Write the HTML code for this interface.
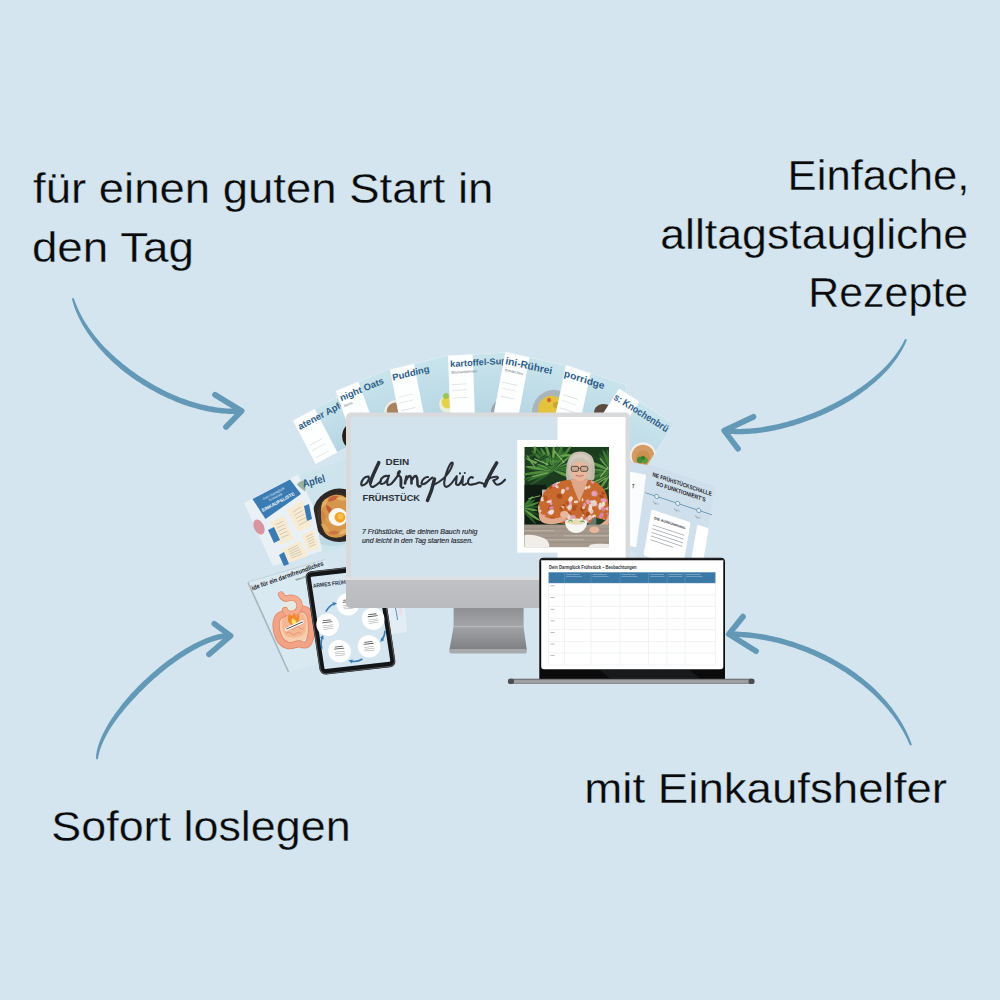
<!DOCTYPE html>
<html><head><meta charset="utf-8"><style>
html,body{margin:0;padding:0;background:#d4e5ef;}
svg{display:block}
text{font-family:"Liberation Sans", sans-serif;}
</style></head><body>
<svg width="1000" height="1000" viewBox="0 0 1000 1000">
<rect width="1000" height="1000" fill="#d4e5ef"/>

<g font-family="Liberation Sans, sans-serif" font-size="43" fill="#0a0a0a" stroke="#d4e5ef" stroke-width="0.3">
<text x="33" y="203" textLength="460.3" lengthAdjust="spacingAndGlyphs">für einen guten Start in</text>
<text x="31.9" y="262" textLength="162.1" lengthAdjust="spacingAndGlyphs">den Tag</text>
<text x="787.6" y="190" textLength="181.9" lengthAdjust="spacingAndGlyphs">Einfache,</text>
<text x="660.2" y="248.6" textLength="307.9" lengthAdjust="spacingAndGlyphs">alltagstaugliche</text>
<text x="808.3" y="307.3" textLength="159.7" lengthAdjust="spacingAndGlyphs">Rezepte</text>
<text x="51.3" y="841" textLength="299.3" lengthAdjust="spacingAndGlyphs">Sofort loslegen</text>
<text x="584.3" y="803" textLength="362.7" lengthAdjust="spacingAndGlyphs">mit Einkaufshelfer</text>
</g>
<path d="M72.1,299.3 L72.7,301.7 L73.4,304.1 L74.1,306.5 L75.0,308.8 L75.9,311.2 L76.9,313.6 L78.0,315.9 L79.1,318.3 L80.3,320.6 L81.5,322.9 L82.8,325.2 L84.1,327.5 L85.6,329.8 L87.0,332.0 L88.5,334.3 L90.1,336.5 L91.7,338.7 L93.4,340.9 L95.1,343.1 L96.9,345.2 L98.7,347.4 L100.5,349.5 L102.4,351.6 L104.4,353.7 L106.3,355.7 L108.4,357.7 L110.4,359.8 L112.5,361.7 L114.6,363.7 L116.8,365.6 L119.0,367.5 L121.2,369.4 L123.5,371.2 L125.8,373.0 L128.2,374.8 L130.5,376.5 L132.9,378.2 L135.4,379.9 L137.8,381.5 L140.3,383.1 L142.7,384.7 L145.3,386.2 L147.8,387.7 L150.3,389.2 L152.9,390.6 L155.5,392.0 L158.0,393.4 L160.6,394.7 L163.3,396.0 L165.9,397.3 L168.5,398.5 L171.2,399.6 L173.8,400.8 L176.5,401.9 L179.1,402.9 L181.8,403.9 L184.5,404.9 L187.1,405.8 L189.8,406.7 L192.5,407.5 L195.2,408.3 L197.8,409.0 L200.5,409.7 L203.2,410.3 L205.8,410.9 L208.5,411.5 L211.1,412.0 L213.7,412.4 L216.4,412.8 L219.0,413.1 L221.6,413.4 L224.2,413.6 L226.7,413.8 L229.3,413.9 L231.8,414.0 L234.4,414.0 L236.9,414.0 L239.4,413.9 L241.8,413.7 L241.4,408.3 L239.1,408.5 L236.7,408.6 L234.3,408.6 L231.9,408.6 L229.5,408.5 L227.1,408.4 L224.6,408.3 L222.1,408.0 L219.6,407.8 L217.1,407.4 L214.6,407.1 L212.1,406.6 L209.5,406.2 L206.9,405.6 L204.4,405.1 L201.8,404.5 L199.2,403.8 L196.6,403.1 L194.0,402.3 L191.5,401.5 L188.9,400.7 L186.3,399.8 L183.7,398.8 L181.1,397.9 L178.5,396.9 L175.9,395.8 L173.3,394.7 L170.7,393.6 L168.2,392.4 L165.6,391.2 L163.1,389.9 L160.5,388.6 L158.0,387.3 L155.5,385.9 L153.0,384.5 L150.5,383.1 L148.0,381.6 L145.6,380.1 L143.2,378.6 L140.8,377.0 L138.4,375.4 L136.0,373.8 L133.7,372.1 L131.4,370.4 L129.1,368.7 L126.9,367.0 L124.6,365.2 L122.4,363.4 L120.2,361.6 L118.1,359.8 L115.9,357.9 L113.8,356.1 L111.8,354.2 L109.8,352.3 L107.8,350.3 L105.8,348.4 L103.9,346.4 L102.1,344.4 L100.2,342.4 L98.5,340.3 L96.7,338.2 L95.0,336.2 L93.4,334.1 L91.8,332.0 L90.2,329.8 L88.7,327.7 L87.3,325.5 L85.9,323.4 L84.5,321.2 L83.2,319.0 L82.0,316.8 L80.8,314.5 L79.6,312.3 L78.5,310.1 L77.5,307.8 L76.6,305.6 L75.6,303.3 L74.8,301.0 L73.9,298.7Z" fill="#6399b6"/><path d="M215,394.8 L241.6,411.0 L226,427" fill="none" stroke="#6399b6" stroke-width="5.7" stroke-linecap="round" stroke-linejoin="round"/><circle cx="73.0" cy="299.0" r="0.95" fill="#6399b6"/><path d="M904.8,339.6 L903.7,341.7 L902.6,343.8 L901.4,345.9 L900.1,347.9 L898.8,350.0 L897.4,352.0 L896.0,354.0 L894.5,356.0 L893.0,358.0 L891.4,359.9 L889.7,361.9 L888.0,363.8 L886.3,365.7 L884.5,367.5 L882.6,369.4 L880.7,371.2 L878.8,373.0 L876.8,374.8 L874.8,376.6 L872.7,378.3 L870.6,380.0 L868.4,381.7 L866.2,383.4 L864.0,385.1 L861.7,386.7 L859.4,388.3 L857.1,389.8 L854.7,391.4 L852.3,392.9 L849.9,394.4 L847.4,395.9 L845.0,397.3 L842.5,398.8 L840.0,400.2 L837.4,401.6 L834.9,402.9 L832.3,404.2 L829.7,405.5 L827.1,406.8 L824.4,408.0 L821.8,409.2 L819.1,410.4 L816.5,411.5 L813.8,412.7 L811.1,413.7 L808.4,414.8 L805.7,415.8 L803.0,416.8 L800.3,417.7 L797.6,418.6 L794.9,419.5 L792.2,420.3 L789.4,421.1 L786.7,421.9 L784.0,422.6 L781.3,423.3 L778.7,423.9 L776.0,424.5 L773.3,425.1 L770.7,425.6 L768.0,426.1 L765.4,426.6 L762.8,427.0 L760.2,427.4 L757.6,427.7 L755.1,428.0 L752.6,428.2 L750.1,428.5 L747.6,428.6 L745.1,428.7 L742.7,428.8 L740.3,428.9 L738.0,428.9 L735.6,428.8 L733.4,428.7 L731.1,428.6 L728.9,428.4 L726.7,428.2 L724.6,427.9 L723.8,433.3 L726.1,433.6 L728.4,433.8 L730.7,434.0 L733.1,434.1 L735.5,434.2 L737.9,434.3 L740.4,434.3 L742.9,434.2 L745.4,434.1 L747.9,434.0 L750.5,433.8 L753.1,433.6 L755.7,433.4 L758.3,433.1 L760.9,432.7 L763.6,432.3 L766.3,431.9 L769.0,431.4 L771.7,430.9 L774.4,430.4 L777.1,429.8 L779.9,429.2 L782.6,428.5 L785.4,427.8 L788.2,427.1 L790.9,426.3 L793.7,425.5 L796.5,424.6 L799.3,423.7 L802.0,422.8 L804.8,421.8 L807.6,420.8 L810.3,419.8 L813.1,418.8 L815.8,417.7 L818.6,416.5 L821.3,415.4 L824.0,414.2 L826.7,412.9 L829.4,411.7 L832.1,410.4 L834.7,409.1 L837.4,407.7 L840.0,406.3 L842.6,404.9 L845.1,403.4 L847.7,402.0 L850.2,400.4 L852.7,398.9 L855.1,397.3 L857.5,395.7 L859.9,394.0 L862.3,392.3 L864.6,390.6 L866.9,388.9 L869.1,387.1 L871.3,385.3 L873.5,383.5 L875.6,381.7 L877.6,379.8 L879.7,378.0 L881.7,376.1 L883.6,374.1 L885.5,372.2 L887.3,370.2 L889.1,368.2 L890.8,366.2 L892.5,364.1 L894.1,362.1 L895.6,360.0 L897.1,357.9 L898.6,355.8 L899.9,353.6 L901.2,351.5 L902.5,349.3 L903.6,347.1 L904.7,344.9 L905.7,342.7 L906.6,340.4Z" fill="#6399b6"/><path d="M753.5,416.8 L724.2,430.6 L738,448.8" fill="none" stroke="#6399b6" stroke-width="5.7" stroke-linecap="round" stroke-linejoin="round"/><circle cx="905.7" cy="340.0" r="0.95" fill="#6399b6"/><path d="M97.9,758.5 L98.3,756.8 L98.6,755.2 L99.0,753.5 L99.5,751.7 L100.0,750.0 L100.6,748.2 L101.2,746.4 L102.0,744.6 L102.8,742.7 L103.6,740.8 L104.5,738.9 L105.5,737.0 L106.6,735.1 L107.6,733.1 L108.8,731.1 L110.0,729.1 L111.3,727.1 L112.6,725.1 L114.0,723.1 L115.4,721.1 L116.9,719.1 L118.4,717.0 L119.9,715.0 L121.5,712.9 L123.2,710.9 L124.9,708.8 L126.6,706.8 L128.4,704.8 L130.2,702.7 L132.0,700.7 L133.9,698.7 L135.8,696.7 L137.7,694.7 L139.6,692.6 L141.6,690.7 L143.6,688.7 L145.6,686.7 L147.6,684.8 L149.7,682.8 L151.7,680.9 L153.8,679.0 L155.9,677.2 L158.1,675.4 L160.2,673.5 L162.4,671.8 L164.5,670.0 L166.7,668.3 L168.9,666.6 L171.0,665.0 L173.2,663.4 L175.4,661.8 L177.6,660.2 L179.8,658.7 L182.0,657.3 L184.2,655.9 L186.3,654.5 L188.5,653.2 L190.6,651.9 L192.8,650.7 L194.9,649.5 L197.0,648.4 L199.1,647.3 L201.2,646.3 L203.3,645.3 L205.3,644.4 L207.3,643.6 L209.3,642.8 L211.3,642.1 L213.2,641.4 L215.1,640.8 L217.0,640.3 L218.8,639.8 L220.6,639.4 L222.4,639.1 L224.1,638.8 L225.8,638.6 L227.4,638.5 L229.0,638.5 L230.5,638.5 L230.7,633.1 L228.9,633.1 L227.1,633.1 L225.3,633.3 L223.4,633.5 L221.5,633.8 L219.5,634.1 L217.6,634.6 L215.6,635.1 L213.6,635.6 L211.5,636.3 L209.5,637.0 L207.4,637.8 L205.3,638.6 L203.2,639.5 L201.0,640.4 L198.9,641.4 L196.7,642.5 L194.5,643.6 L192.3,644.8 L190.1,646.0 L187.9,647.2 L185.7,648.6 L183.5,649.9 L181.2,651.3 L179.0,652.8 L176.8,654.3 L174.5,655.8 L172.3,657.4 L170.0,659.0 L167.8,660.6 L165.6,662.3 L163.4,664.0 L161.1,665.8 L158.9,667.6 L156.7,669.4 L154.6,671.2 L152.4,673.1 L150.2,675.0 L148.1,676.9 L146.0,678.9 L143.9,680.8 L141.8,682.8 L139.8,684.8 L137.7,686.8 L135.7,688.9 L133.8,690.9 L131.8,693.0 L129.9,695.1 L128.1,697.2 L126.3,699.3 L124.5,701.5 L122.7,703.6 L121.0,705.7 L119.4,707.9 L117.8,710.0 L116.2,712.2 L114.6,714.3 L113.2,716.4 L111.7,718.6 L110.3,720.7 L109.0,722.8 L107.7,725.0 L106.5,727.1 L105.4,729.2 L104.2,731.2 L103.2,733.3 L102.2,735.4 L101.3,737.4 L100.4,739.4 L99.7,741.4 L98.9,743.4 L98.3,745.4 L97.7,747.3 L97.2,749.2 L96.8,751.1 L96.5,753.0 L96.2,754.8 L96.1,756.6 L96.1,758.3Z" fill="#6399b6"/><path d="M214.3,623.8 L230.6,635.8 L209,654.3" fill="none" stroke="#6399b6" stroke-width="5.7" stroke-linecap="round" stroke-linejoin="round"/><circle cx="97.0" cy="758.4" r="0.95" fill="#6399b6"/><path d="M911.6,744.2 L910.7,741.5 L909.7,738.9 L908.6,736.3 L907.4,733.7 L906.2,731.2 L905.0,728.7 L903.6,726.2 L902.3,723.8 L900.8,721.3 L899.3,718.9 L897.8,716.5 L896.2,714.2 L894.6,711.9 L892.9,709.6 L891.2,707.3 L889.4,705.1 L887.6,702.8 L885.7,700.6 L883.8,698.5 L881.9,696.4 L879.9,694.3 L877.9,692.2 L875.8,690.1 L873.7,688.1 L871.6,686.1 L869.4,684.2 L867.2,682.3 L864.9,680.4 L862.7,678.5 L860.3,676.7 L858.0,674.9 L855.6,673.1 L853.2,671.4 L850.8,669.7 L848.3,668.1 L845.8,666.5 L843.3,664.9 L840.8,663.4 L838.2,661.9 L835.6,660.4 L833.0,659.0 L830.4,657.6 L827.8,656.2 L825.1,654.8 L822.4,653.5 L819.8,652.3 L817.1,651.0 L814.3,649.8 L811.6,648.7 L808.9,647.6 L806.1,646.5 L803.4,645.4 L800.6,644.4 L797.8,643.4 L795.1,642.5 L792.3,641.6 L789.5,640.7 L786.7,639.9 L783.9,639.1 L781.1,638.3 L778.3,637.6 L775.5,636.9 L772.7,636.3 L769.9,635.7 L767.1,635.1 L764.3,634.6 L761.5,634.1 L758.7,633.7 L756.0,633.3 L753.2,632.9 L750.4,632.6 L747.7,632.3 L744.9,632.1 L742.2,631.9 L739.5,631.7 L736.8,631.6 L734.1,631.5 L731.4,631.5 L728.8,631.5 L728.8,636.9 L731.4,636.9 L734.0,636.9 L736.6,637.0 L739.2,637.1 L741.9,637.2 L744.5,637.4 L747.2,637.7 L749.9,637.9 L752.5,638.3 L755.2,638.6 L757.9,639.0 L760.6,639.4 L763.4,639.9 L766.1,640.4 L768.8,641.0 L771.5,641.5 L774.3,642.2 L777.0,642.8 L779.7,643.5 L782.4,644.3 L785.2,645.0 L787.9,645.9 L790.6,646.7 L793.4,647.6 L796.1,648.5 L798.8,649.5 L801.5,650.5 L804.2,651.5 L806.9,652.6 L809.5,653.7 L812.2,654.8 L814.8,656.0 L817.5,657.2 L820.1,658.4 L822.7,659.7 L825.3,661.0 L827.9,662.3 L830.4,663.7 L833.0,665.1 L835.5,666.5 L838.0,668.0 L840.5,669.5 L842.9,671.1 L845.4,672.6 L847.8,674.2 L850.1,675.8 L852.5,677.5 L854.8,679.2 L857.2,680.9 L859.4,682.6 L861.7,684.3 L863.9,686.1 L866.1,687.9 L868.3,689.8 L870.5,691.7 L872.6,693.6 L874.6,695.5 L876.7,697.4 L878.7,699.4 L880.6,701.4 L882.5,703.5 L884.4,705.6 L886.3,707.7 L888.1,709.8 L889.8,711.9 L891.6,714.1 L893.2,716.3 L894.9,718.6 L896.5,720.8 L898.0,723.1 L899.5,725.4 L900.9,727.8 L902.3,730.1 L903.7,732.5 L905.0,735.0 L906.3,737.4 L907.5,739.9 L908.6,742.4 L909.8,744.8Z" fill="#6399b6"/><path d="M743,616.6 L728.8,634.2 L756,651.2" fill="none" stroke="#6399b6" stroke-width="5.7" stroke-linecap="round" stroke-linejoin="round"/><circle cx="910.7" cy="744.5" r="0.95" fill="#6399b6"/>
<defs><linearGradient id="ph" x1="0" y1="0" x2="0" y2="1"><stop offset="0" stop-color="#c9e4ec"/><stop offset="1" stop-color="#b6d6e3"/></linearGradient><linearGradient id="chin" x1="0" y1="0" x2="0" y2="1"><stop offset="0" stop-color="#c0c1c4"/><stop offset="1" stop-color="#babbbe"/></linearGradient><linearGradient id="neck" x1="0" y1="0" x2="0" y2="1"><stop offset="0" stop-color="#8f9094"/><stop offset="1" stop-color="#a4a5a9"/></linearGradient><linearGradient id="foot" x1="0" y1="0" x2="0" y2="1"><stop offset="0" stop-color="#a3a4a8"/><stop offset="1" stop-color="#7e7f83"/></linearGradient><linearGradient id="lbase" x1="0" y1="0" x2="0" y2="1"><stop offset="0" stop-color="#5d5e61"/><stop offset="0.4" stop-color="#a9aaad"/><stop offset="1" stop-color="#8a8b8e"/></linearGradient><radialGradient id="soup" cx="0.5" cy="0.5" r="0.5"><stop offset="0" stop-color="#d9a066"/><stop offset="1" stop-color="#c98a4e"/></radialGradient></defs><g transform="matrix(0.8823 -0.4694 0.4560 0.8760 292.80 420.40)"><svg x="0" y="0" width="62" height="50" overflow="hidden"><rect x="0" y="0" width="62" height="50" fill="url(#ph)"/><rect x="0" y="0" width="24.8" height="50" fill="#fdfefe"/><circle cx="49.8" cy="44.5" r="15" fill="#2a1d18"/><circle cx="49.8" cy="44.5" r="11" fill="#4a3022"/><rect x="3" y="30" width="14.8" height="0.6" fill="#aab2b8" opacity="0.45"/><rect x="3" y="36" width="14.8" height="0.6" fill="#aab2b8" opacity="0.45"/><rect x="3" y="44" width="14.8" height="0.6" fill="#aab2b8" opacity="0.45"/><text x="2" y="12" font-family="Liberation Sans, sans-serif" font-weight="bold" font-size="9.5" fill="#2d5d86">atener Apfel</text><rect x="0" y="0" width="62" height="50" fill="none" stroke="#eef5f8" stroke-width="0.8"/></svg></g><g transform="matrix(0.9226 -0.3839 0.3306 0.9097 335.40 391.00)"><svg x="0" y="0" width="62" height="62" overflow="hidden"><rect x="0" y="0" width="62" height="62" fill="url(#ph)"/><rect x="0" y="0" width="24.8" height="62" fill="#fdfefe"/><circle cx="49.3" cy="42.8" r="11" fill="#f1ede6"/><circle cx="49.3" cy="42.8" r="8.5" fill="#a7835f"/><rect x="3" y="30" width="14.8" height="0.6" fill="#aab2b8" opacity="0.45"/><rect x="3" y="36" width="14.8" height="0.6" fill="#aab2b8" opacity="0.45"/><rect x="3" y="44" width="14.8" height="0.6" fill="#aab2b8" opacity="0.45"/><text x="2" y="12" font-family="Liberation Sans, sans-serif" font-weight="bold" font-size="9.5" fill="#2d5d86">night Oats</text><text x="3" y="19" font-family="Liberation Sans, sans-serif" font-size="4" fill="#6d7880">Nuss</text><rect x="0" y="0" width="62" height="62" fill="none" stroke="#eef5f8" stroke-width="0.8"/></svg></g><g transform="matrix(0.9710 -0.2371 0.1871 0.9500 389.80 369.50)"><svg x="0" y="0" width="62" height="62" overflow="hidden"><rect x="0" y="0" width="62" height="62" fill="url(#ph)"/><rect x="0" y="0" width="24.8" height="62" fill="#fdfefe"/><circle cx="50.5" cy="48.9" r="9" fill="#e9efd8"/><circle cx="50.9" cy="46.9" r="6.5" fill="#e6d24a"/><circle cx="50.1" cy="40.4" r="3" fill="#9cc45a"/><rect x="3" y="30" width="14.8" height="0.6" fill="#aab2b8" opacity="0.45"/><rect x="3" y="36" width="14.8" height="0.6" fill="#aab2b8" opacity="0.45"/><rect x="3" y="44" width="14.8" height="0.6" fill="#aab2b8" opacity="0.45"/><text x="1" y="12" font-family="Liberation Sans, sans-serif" font-weight="bold" font-size="9.5" fill="#2d5d86">Pudding</text><rect x="0" y="0" width="62" height="62" fill="none" stroke="#eef5f8" stroke-width="0.8"/></svg></g><g transform="matrix(0.9984 -0.0565 0.0355 0.9677 447.90 355.50)"><svg x="0" y="0" width="62" height="62" overflow="hidden"><rect x="0" y="0" width="62" height="62" fill="url(#ph)"/><rect x="0" y="0" width="24.8" height="62" fill="#fdfefe"/><circle cx="56.0" cy="61.7" r="15" fill="#9aa4aa"/><circle cx="56.0" cy="61.7" r="11" fill="#d9a36a"/><rect x="3" y="30" width="14.8" height="0.6" fill="#aab2b8" opacity="0.45"/><rect x="3" y="36" width="14.8" height="0.6" fill="#aab2b8" opacity="0.45"/><rect x="3" y="44" width="14.8" height="0.6" fill="#aab2b8" opacity="0.45"/><text x="2" y="12" font-family="Liberation Sans, sans-serif" font-weight="bold" font-size="9.2" fill="#2d5d86">kartoffel-Sup</text><text x="3" y="19" font-family="Liberation Sans, sans-serif" font-size="4" fill="#6d7880">Blumenkernen</text><rect x="0" y="0" width="62" height="62" fill="none" stroke="#eef5f8" stroke-width="0.8"/></svg></g><g transform="matrix(0.9758 0.2210 -0.1839 0.9823 505.30 351.70)"><svg x="0" y="0" width="62" height="62" overflow="hidden"><rect x="0" y="0" width="62" height="62" fill="url(#ph)"/><rect x="0" y="0" width="24.8" height="62" fill="#fdfefe"/><circle cx="60.1" cy="48.9" r="23" fill="#aab4bb"/><circle cx="56.6" cy="46.6" r="14" fill="#e3c33c"/><circle cx="51.9" cy="37.5" r="2.2" fill="#d9652c"/><circle cx="59.7" cy="40.8" r="3" fill="#c9a830"/><rect x="3" y="30" width="14.8" height="0.6" fill="#aab2b8" opacity="0.45"/><rect x="3" y="36" width="14.8" height="0.6" fill="#aab2b8" opacity="0.45"/><rect x="3" y="44" width="14.8" height="0.6" fill="#aab2b8" opacity="0.45"/><text x="2" y="12" font-family="Liberation Sans, sans-serif" font-weight="bold" font-size="10.2" fill="#2d5d86">ini-Rührei</text><text x="3" y="19" font-family="Liberation Sans, sans-serif" font-size="4" fill="#6d7880">tomätchen</text><rect x="0" y="0" width="62" height="62" fill="none" stroke="#eef5f8" stroke-width="0.8"/></svg></g><g transform="matrix(0.9903 0.3210 -0.2000 0.9468 566.00 365.00)"><svg x="0" y="0" width="62" height="62" overflow="hidden"><rect x="0" y="0" width="62" height="62" fill="url(#ph)"/><rect x="0" y="0" width="24.8" height="62" fill="#fdfefe"/><circle cx="46.8" cy="36.9" r="11" fill="#5a4a40"/><rect x="3" y="30" width="14.8" height="0.6" fill="#aab2b8" opacity="0.45"/><rect x="3" y="36" width="14.8" height="0.6" fill="#aab2b8" opacity="0.45"/><rect x="3" y="44" width="14.8" height="0.6" fill="#aab2b8" opacity="0.45"/><text x="0" y="12" font-family="Liberation Sans, sans-serif" font-weight="bold" font-size="10" fill="#2d5d86">porridge</text><rect x="0" y="0" width="62" height="62" fill="none" stroke="#eef5f8" stroke-width="0.8"/></svg></g><g transform="matrix(0.8427 0.5344 -0.5375 0.8438 619.00 388.50)"><svg x="0" y="0" width="65.5" height="80" overflow="hidden"><rect x="0" y="0" width="65.5" height="80" fill="url(#ph)"/><rect x="0" y="0" width="24.235" height="80" fill="#fdfefe"/><circle cx="56.4" cy="43.7" r="13.2" fill="#f1f0ec"/><circle cx="56.6" cy="44.1" r="11.3" fill="#d49c62"/><circle cx="57.4" cy="45.4" r="7" fill="#cd9053"/><circle cx="56.2" cy="49.1" r="3.2" fill="#4c8a36"/><circle cx="60.7" cy="46.9" r="3" fill="#5a9a40"/><circle cx="57.7" cy="45.8" r="2.2" fill="#3f7a2e"/><rect x="3" y="30" width="14.235" height="0.6" fill="#aab2b8" opacity="0.45"/><rect x="3" y="36" width="14.235" height="0.6" fill="#aab2b8" opacity="0.45"/><rect x="3" y="44" width="14.235" height="0.6" fill="#aab2b8" opacity="0.45"/><text x="0.5" y="12" font-family="Liberation Sans, sans-serif" font-weight="bold" font-size="10" fill="#2d5d86"><tspan textLength="63" lengthAdjust="spacingAndGlyphs">s: Knochenbrü</tspan></text><rect x="0" y="0" width="65.5" height="80" fill="none" stroke="#eef5f8" stroke-width="0.8"/></svg></g><polygon points="288.0,479.0 347.0,459.0 347.0,547.0 300.0,557.0" fill="#cde4ed"/><ellipse cx="333" cy="530" rx="24" ry="16" fill="#b9d4e0" opacity="0.7"/><circle cx="339.3" cy="515.3" r="26.7" fill="#2e2724"/><circle cx="339.3" cy="515.3" r="22" fill="#3a302b"/><path d="M321,512 C320,503 326,497 334,495 C342,494 348,497 350,505 L350,530 C346,537 338,539 331,537 C324,535 321,528 321,512 Z" fill="#d6964c"/><path d="M-6,1 Q-1,-5 6,-1 Q1,3 -6,1 Z" transform="translate(325,503) rotate(-50)" fill="#e2ae5e"/><path d="M-6,1 Q-1,-5 6,-1 Q1,3 -6,1 Z" transform="translate(333,499) rotate(-15)" fill="#c5603c"/><path d="M-6,1 Q-1,-5 6,-1 Q1,3 -6,1 Z" transform="translate(342,499) rotate(15)" fill="#e4b466"/><path d="M-6,1 Q-1,-5 6,-1 Q1,3 -6,1 Z" transform="translate(323,516) rotate(85)" fill="#cf8642"/><path d="M-6,1 Q-1,-5 6,-1 Q1,3 -6,1 Z" transform="translate(325,528) rotate(55)" fill="#e0a858"/><path d="M-6,1 Q-1,-5 6,-1 Q1,3 -6,1 Z" transform="translate(334,533) rotate(5)" fill="#c97442"/><path d="M-6,1 Q-1,-5 6,-1 Q1,3 -6,1 Z" transform="translate(344,532) rotate(-15)" fill="#e6b868"/><path d="M-6,1 Q-1,-5 6,-1 Q1,3 -6,1 Z" transform="translate(329,510) rotate(70)" fill="#bf5a38"/><path d="M-6,1 Q-1,-5 6,-1 Q1,3 -6,1 Z" transform="translate(330,522) rotate(30)" fill="#dca055"/><ellipse cx="338" cy="517" rx="9.5" ry="9" fill="#fbf7ee"/><circle cx="340" cy="517.3" r="5.4" fill="#f0a52a"/><circle cx="340.5" cy="516.5" r="3" fill="#f6bf4e"/><polygon points="244.0,503.0 298.0,474.5 313.0,506.0 322.0,551.0 273.0,566.0" fill="#e9f1f6"/><polygon points="252.5,499.0 290.0,479.5 301.0,494.0 265.5,519.0" fill="#3a7bb4"/><g transform="translate(276.5,499) rotate(-28)" font-family="Liberation Sans, sans-serif" text-anchor="middle" fill="#eaf2f8"><text x="0" y="-5" font-size="3.4">Dein Darmglück</text><text x="0" y="-1" font-size="3.4">Frühstück</text><text x="0" y="5" font-size="4.6" font-weight="bold" fill="#ffffff">EINKAUFSLISTE</text></g><ellipse cx="259" cy="527" rx="5" ry="8" transform="rotate(-25 259 527)" fill="#d5848f" opacity="0.85"/><polygon points="270.0,522.0 284.0,515.0 294.0,539.0 280.0,545.0" fill="#f7ecd3"/><line x1="275.5" y1="524.9" x2="283.2" y2="521.2" stroke="#6e6a60" stroke-width="0.45" opacity="0.6"/><line x1="276.9" y1="528.2" x2="284.6" y2="524.5" stroke="#6e6a60" stroke-width="0.45" opacity="0.6"/><line x1="278.3" y1="531.4" x2="286.0" y2="527.8" stroke="#6e6a60" stroke-width="0.45" opacity="0.6"/><line x1="279.7" y1="534.7" x2="287.4" y2="531.2" stroke="#6e6a60" stroke-width="0.45" opacity="0.6"/><line x1="281.1" y1="537.9" x2="288.8" y2="534.5" stroke="#6e6a60" stroke-width="0.45" opacity="0.6"/><polygon points="287.0,510.0 302.0,500.0 312.0,526.0 298.0,532.0" fill="#f7ecd3"/><line x1="292.9" y1="512.1" x2="301.0" y2="507.0" stroke="#6e6a60" stroke-width="0.45" opacity="0.6"/><line x1="294.4" y1="515.3" x2="302.5" y2="510.6" stroke="#6e6a60" stroke-width="0.45" opacity="0.6"/><line x1="295.9" y1="518.5" x2="303.9" y2="514.1" stroke="#6e6a60" stroke-width="0.45" opacity="0.6"/><line x1="297.4" y1="521.8" x2="305.3" y2="517.6" stroke="#6e6a60" stroke-width="0.45" opacity="0.6"/><line x1="298.9" y1="525.0" x2="306.8" y2="521.2" stroke="#6e6a60" stroke-width="0.45" opacity="0.6"/><polygon points="282.0,550.0 300.0,540.0 308.0,556.0 288.0,563.0" fill="#f7ecd3"/><line x1="287.8" y1="550.2" x2="297.9" y2="545.1" stroke="#6e6a60" stroke-width="0.45" opacity="0.6"/><line x1="288.7" y1="552.2" x2="299.0" y2="547.2" stroke="#6e6a60" stroke-width="0.45" opacity="0.6"/><line x1="289.6" y1="554.1" x2="300.0" y2="549.4" stroke="#6e6a60" stroke-width="0.45" opacity="0.6"/><line x1="290.5" y1="556.0" x2="301.1" y2="551.5" stroke="#6e6a60" stroke-width="0.45" opacity="0.6"/><line x1="291.4" y1="558.0" x2="302.2" y2="553.7" stroke="#6e6a60" stroke-width="0.45" opacity="0.6"/><polygon points="302.0,535.0 314.0,529.0 319.0,548.0 308.0,552.0" fill="#f7ecd3"/><line x1="306.1" y1="537.0" x2="312.6" y2="533.9" stroke="#6e6a60" stroke-width="0.45" opacity="0.6"/><line x1="307.0" y1="539.5" x2="313.4" y2="536.5" stroke="#6e6a60" stroke-width="0.45" opacity="0.6"/><line x1="307.8" y1="541.9" x2="314.1" y2="539.1" stroke="#6e6a60" stroke-width="0.45" opacity="0.6"/><line x1="308.6" y1="544.3" x2="314.8" y2="541.7" stroke="#6e6a60" stroke-width="0.45" opacity="0.6"/><line x1="309.4" y1="546.8" x2="315.6" y2="544.3" stroke="#6e6a60" stroke-width="0.45" opacity="0.6"/><polygon points="268.0,530.0 274.0,527.0 280.0,540.0 274.0,543.0" fill="#3a7bb4"/><polygon points="304.0,506.0 309.0,504.0 312.0,519.0 307.0,521.0" fill="#3a7bb4"/><polygon points="279.0,555.0 284.0,552.0 289.0,564.0 284.0,566.0" fill="#3a7bb4"/><path d="M297,484.5 C299,481 303,480 306,480.5 C306.5,484 305.5,488 305,491.6 C302,489 299,487 297,484.5 Z" fill="#9ab3a0"/><text transform="translate(303.5,487.5) rotate(-14)" font-family="Liberation Sans, sans-serif" font-weight="bold" font-size="11" fill="#2d5d86" textLength="23" lengthAdjust="spacingAndGlyphs">Apfel</text><polygon points="248.0,582.0 325.0,559.5 372.0,650.0 288.0,672.0" fill="#d9e9f2"/><line x1="248" y1="582.5" x2="288.5" y2="672" stroke="#aab4bb" stroke-width="1.6"/><line x1="248" y1="582" x2="325" y2="559.5" stroke="#c0ccd4" stroke-width="0.8"/><text transform="translate(252.4,590.5) rotate(-19.5)" font-family="Liberation Sans, sans-serif" font-weight="bold" font-size="6.6" fill="#1f2328" textLength="76" lengthAdjust="spacingAndGlyphs">ide für ein darmfreundliches</text><text transform="translate(296,581) rotate(-19)" font-family="Liberation Sans, sans-serif" font-size="3.2" fill="#444">Warum</text><ellipse cx="294" cy="622" rx="17" ry="23" fill="#fbeec8" opacity="0.4"/><path d="M280,616 C284,610 296,609 305,611 C310,615 310,628 308,636 C305,643 292,644 284,641 C278,636 277,622 280,616 Z" fill="#f7cfae"/><path d="M283,617 C286,613 296,612 303,614 C307,617 307,626 305,632 C302,638 292,639 286,636 C282,633 281,622 283,617 Z" fill="#f4b894"/><path d="M283,614 C277,615 275,622 276.5,630 C278,638 282,644 288,645.5 C293,646.5 297,643 300,644 C304,645.5 307,646 309,642 C312,636 312,628 311,620 C310,613 307,609 302,609" fill="none" stroke="#e0866c" stroke-width="7.2" stroke-linecap="round"/><path d="M283,614 C277,615 275,622 276.5,630 C278,638 282,644 288,645.5 C293,646.5 297,643 300,644 C304,645.5 307,646 309,642 C312,636 312,628 311,620 C310,613 307,609 302,609" fill="none" stroke="#f2a386" stroke-width="5.6" stroke-linecap="round"/><path d="M285,628 q2.5,-3 5,0 q2.5,3 5,0 q2.5,-3 5,0 q2.5,3 4,0 M286,633.5 q2.5,-3 5,0 q2.5,3 5,0 q2.5,-3 5,0" fill="none" stroke="#e3917a" stroke-width="0.9"/><path d="M281,594.5 C282.5,597.5 284.5,599 287,598.5 C291,597 296,597.5 298.5,601.5 C301,606 299,611 295,613 C291,615 286,613.5 285,610" fill="none" stroke="#e0866c" stroke-width="6.2" stroke-linecap="round"/><path d="M281,594.5 C282.5,597.5 284.5,599 287,598.5 C291,597 296,597.5 298.5,601.5 C301,606 299,611 295,613 C291,615 286,613.5 285,610" fill="none" stroke="#f4ab8e" stroke-width="4.8" stroke-linecap="round"/><path d="M292,625 C287,623 287,617 290,613 C290,616 292,617 293,614.5 C294,611.5 296,614 296,617 C297.5,616 298,614 298,613 C300.5,617 299.5,623 294,625 Z" fill="#f08a2c"/><path d="M293.5,625 C291,623 291,620 293,618 C294,620 296,620 296.5,622 C296.5,624 295,625 293.5,625 Z" fill="#fbe06a"/><g transform="rotate(-24 294.5 625.5)"><rect x="284.5" y="624" width="20" height="3" fill="#ffffff"/><rect x="285.5" y="625" width="18" height="1" fill="#3a3a3a"/></g><polygon points="380,600 404,598 407,632 386,635" fill="#e2edf4"/><path d="M395,606 C396,610 397,615 397.5,620" fill="none" stroke="#4f8fbf" stroke-width="1"/><rect x="399" y="608" width="3" height="7" fill="#f0d6de" opacity="0.7"/><g transform="matrix(0.9974 -0.1145 0.1500 0.9923 304.80 572.00)"><rect width="76" height="104" rx="6" fill="#141517"/><rect x="0.8" y="0.8" width="74.4" height="102.4" rx="5.4" fill="none" stroke="#5d5e62" stroke-width="0.9"/><rect x="5" y="5.5" width="66" height="93" rx="1" fill="#d5e6f0"/><text x="6" y="16.5" font-family="Liberation Sans, sans-serif" font-weight="bold" font-size="5.6" fill="#27323d" textLength="36" lengthAdjust="spacingAndGlyphs">ARMES FRÜHS</text><circle cx="37.7" cy="37.0" r="11.2" fill="#ffffff"/><rect x="33.7" y="32.0" width="8" height="0.8" fill="#4a4a4a"/><rect x="32.7" y="34.0" width="10" height="0.8" fill="#4a4a4a"/><rect x="32.7" y="37.3" width="10" height="0.5" fill="#9a9fa4"/><rect x="32.7" y="39.1" width="10" height="0.5" fill="#9a9fa4"/><rect x="32.7" y="40.9" width="10" height="0.5" fill="#9a9fa4"/><circle cx="14.6" cy="54.9" r="11.2" fill="#ffffff"/><rect x="10.6" y="49.9" width="8" height="0.8" fill="#4a4a4a"/><rect x="9.6" y="51.9" width="10" height="0.8" fill="#4a4a4a"/><rect x="9.6" y="55.2" width="10" height="0.5" fill="#9a9fa4"/><rect x="9.6" y="57.0" width="10" height="0.5" fill="#9a9fa4"/><rect x="9.6" y="58.8" width="10" height="0.5" fill="#9a9fa4"/><circle cx="60.4" cy="54.1" r="11.2" fill="#ffffff"/><rect x="56.4" y="49.1" width="8" height="0.8" fill="#4a4a4a"/><rect x="55.4" y="51.1" width="10" height="0.8" fill="#4a4a4a"/><rect x="55.4" y="54.4" width="10" height="0.5" fill="#9a9fa4"/><rect x="55.4" y="56.2" width="10" height="0.5" fill="#9a9fa4"/><rect x="55.4" y="58.0" width="10" height="0.5" fill="#9a9fa4"/><circle cx="22.5" cy="82.4" r="11.2" fill="#ffffff"/><rect x="18.5" y="77.4" width="8" height="0.8" fill="#4a4a4a"/><rect x="17.5" y="79.4" width="10" height="0.8" fill="#4a4a4a"/><rect x="17.5" y="82.7" width="10" height="0.5" fill="#9a9fa4"/><rect x="17.5" y="84.5" width="10" height="0.5" fill="#9a9fa4"/><rect x="17.5" y="86.3" width="10" height="0.5" fill="#9a9fa4"/><circle cx="52.2" cy="81.0" r="11.2" fill="#ffffff"/><rect x="48.2" y="76.0" width="8" height="0.8" fill="#4a4a4a"/><rect x="47.2" y="78.0" width="10" height="0.8" fill="#4a4a4a"/><rect x="47.2" y="81.3" width="10" height="0.5" fill="#9a9fa4"/><rect x="47.2" y="83.1" width="10" height="0.5" fill="#9a9fa4"/><rect x="47.2" y="84.9" width="10" height="0.5" fill="#9a9fa4"/><path d="M14.8,41.6 Q20.0,35.1 25.1,34.6" fill="none" stroke="#3a7db5" stroke-width="1.6"/><path d="M27.1,34.5 L23.2,36.8 L22.9,32.8 Z" fill="#3a7db5"/><path d="M70.3,67.4 Q69.5,72.5 65.5,76.5" fill="none" stroke="#3a7db5" stroke-width="1.6"/><path d="M64.1,77.9 L65.5,73.7 L68.3,76.5 Z" fill="#3a7db5"/><path d="M43.8,92.7 Q38.0,95.6 31.7,93.3" fill="none" stroke="#3a7db5" stroke-width="1.6"/><path d="M29.8,92.7 L34.2,92.1 L32.9,95.9 Z" fill="#3a7db5"/><path d="M5.5,78.0 Q4.4,72.1 7.8,66.2" fill="none" stroke="#3a7db5" stroke-width="1.6"/><path d="M8.8,64.5 L8.5,68.9 L5.1,66.9 Z" fill="#3a7db5"/></g><g transform="matrix(0.6500 0.1250 -0.1333 0.9667 626.00 461.00)"><rect width="40" height="90" fill="#cfe0ec"/><rect x="3" y="10" width="30" height="75" fill="#fbfcfd"/><text x="14" y="26" font-family="Liberation Sans, sans-serif" font-weight="bold" font-size="6" fill="#333">T</text></g><g transform="matrix(0.9545 0.3182 -0.1600 0.9250 652.00 465.50)"><rect width="66" height="100" fill="#cfe0ec"/><text x="33" y="11" text-anchor="middle" font-family="Liberation Sans, sans-serif" font-weight="bold" font-size="6.3" fill="#1f2429" textLength="62" lengthAdjust="spacingAndGlyphs">NE FRÜHSTÜCKSCHALLE</text><text x="33" y="19" text-anchor="middle" font-family="Liberation Sans, sans-serif" font-weight="bold" font-size="6.3" fill="#1f2429" textLength="52" lengthAdjust="spacingAndGlyphs">SO FUNKTIONIERT'S</text><line x1="-2" y1="30" x2="68" y2="30" stroke="#5f8fb0" stroke-width="0.9"/><circle cx="10" cy="30" r="2.2" fill="#e8f0f6" stroke="#5f8fb0" stroke-width="0.8"/><text x="10" y="38" text-anchor="middle" font-family="Liberation Sans, sans-serif" font-size="2.6" fill="#555">Tag 1</text><circle cx="32" cy="30" r="2.2" fill="#e8f0f6" stroke="#5f8fb0" stroke-width="0.8"/><text x="32" y="38" text-anchor="middle" font-family="Liberation Sans, sans-serif" font-size="2.6" fill="#555">Tag 1</text><circle cx="54" cy="30" r="2.2" fill="#e8f0f6" stroke="#5f8fb0" stroke-width="0.8"/><text x="54" y="38" text-anchor="middle" font-family="Liberation Sans, sans-serif" font-size="2.6" fill="#555">Tag 1</text><rect x="7" y="45" width="41" height="50" rx="2" fill="#ffffff"/><rect x="55" y="45" width="12" height="50" rx="2" fill="#ffffff"/><text x="27.5" y="54" text-anchor="middle" font-family="Liberation Sans, sans-serif" font-weight="bold" font-size="3.6" fill="#2a2f35">DIE AUSFÜHRUNG</text><rect x="11" y="60" width="33" height="0.8" fill="#7b8288" opacity="0.7"/><rect x="11" y="64" width="33" height="0.8" fill="#7b8288" opacity="0.7"/><rect x="11" y="68" width="33" height="0.8" fill="#7b8288" opacity="0.7"/><rect x="11" y="72" width="33" height="0.8" fill="#7b8288" opacity="0.7"/><rect x="11" y="76" width="24" height="0.8" fill="#7b8288" opacity="0.7"/></g><rect x="346" y="412.5" width="284" height="195.5" rx="5" fill="#d9dadc"/><path d="M346,579.5 H630 V603 Q630,608 625,608 H351 Q346,608 346,603 Z" fill="url(#chin)"/><rect x="346" y="577" width="284" height="3" fill="#dfe0e3"/><rect x="351" y="417" width="274.5" height="160" rx="2" fill="#d3e3ee"/><rect x="557.5" y="417" width="68" height="160" fill="#ffffff"/><rect x="517.2" y="440" width="45" height="112.6" fill="#ffffff"/><rect x="453.6" y="608" width="70" height="18.5" fill="url(#neck)"/><path d="M453.6,626.5 L523.5,626.5 L526.8,650 L449.4,650 Z" fill="url(#foot)"/><rect x="449.4" y="649" width="77.4" height="4.6" rx="2" fill="#a9aaad"/><rect x="453.6" y="626" width="70" height="1.2" fill="#b8b9bc"/><text x="385.5" y="465.3" font-family="Liberation Sans, sans-serif" font-weight="bold" font-size="9.6" fill="#2b3036" textLength="23.8" lengthAdjust="spacingAndGlyphs">DEIN</text><text x="362.5" y="500.5" font-family="Liberation Sans, sans-serif" font-weight="bold" font-size="9" fill="#2b3036" textLength="57.5" lengthAdjust="spacingAndGlyphs">FRÜHSTÜCK</text><text x="362" y="533.9" font-family="Liberation Sans, sans-serif" font-style="italic" font-size="6.5" fill="#2b3036" stroke="#2b3036" stroke-width="0.18" textLength="115.5" lengthAdjust="spacingAndGlyphs">7 Frühstücke, die deinen Bauch ruhig</text><text x="362" y="542.9" font-family="Liberation Sans, sans-serif" font-style="italic" font-size="6.5" fill="#2b3036" stroke="#2b3036" stroke-width="0.18" textLength="111" lengthAdjust="spacingAndGlyphs">und leicht in den Tag starten lassen.</text><path d="M368.5,476.5 C365,476 361.5,480 361.2,484 C361,486.5 364.5,485.5 367,482.5 C368.5,480.5 369.5,478 368.5,476.5 M370.4,482.5 C369.8,486 371.5,487.8 374,486.5 C377,485 379,483 381,481 M388.6,476.8 C386,474.5 381.5,477 380.5,481 C379.5,485 383,485 386,481.5 C387.5,479.5 388.5,477.5 388.6,476.8 M389,475.5 C388,479 386.5,483 387.5,484.5 C388.5,485.8 391,484.5 393,482 M393,482 C395.5,479 398.5,475 399.8,472 C400.5,470.5 398.5,471 397.8,473.5 C397.5,475 399,476 400.3,476.5 C401.5,478.5 401.5,483 401,486.5 C401.5,488 402.5,488.2 403.5,487.5 M428,477 C425.5,476.5 422,479.5 421.5,483 C421.2,485 423.5,484.5 426,483 C428.5,481 430.5,478.5 432.5,477.5 M432.5,485 C436,484 440,481.5 444,478 C448,474 451.5,468 452.6,464.5 C453.3,462 451.5,462 450,464.5 C447.5,469 445,477 444.2,482.5 C444,486.5 445.5,487.5 447.5,486.5 C450,485.5 452,483 454,480 M454,480 C455,478.5 456,477 456.8,476.2 C456.5,479 456,482 456,484 C456.5,485.5 458.5,485.5 460,483.5 C461.5,481 462.5,478.5 463,476.2 C462.8,479 462.4,482 462.4,484 C462.8,485.5 464.5,485.4 466.5,483.5 M472.9,477.6 C471,476 468.5,478.5 468,481.5 C467.7,484 469.5,485 471.5,484.6 C474,484.2 477,483.5 479.2,482.5 C481,482 483,483.5 484.8,484.6 M486.2,480.4 C489,478.5 494,476.5 497.4,476.9 C499,477.5 497,479.5 493.2,480.4 C494.5,482 495,484 496.5,484.6 C499,485.2 502.5,482.5 505,479.7 " fill="none" stroke="#2b3036" stroke-width="2.1" stroke-linecap="round" stroke-linejoin="round"/><path d="M406.5,476.5 C406,479 405.3,481.5 405,483.5 M405.5,481 C407,478 408.5,476 410,476 C411.5,476.3 411.5,480 411.5,483.5 M411.8,480 C413,477.5 414.5,476 416,476 C417.5,476.5 417.5,481 417.5,484.5 C418,486.5 419,486.8 420.5,486 M400.8,478 L400.8,486 " fill="none" stroke="#2b3036" stroke-width="2.6" stroke-linecap="round" stroke-linejoin="round"/><path d="M378.8,462.6 C376,469 372,476 370.4,482.5 M434.5,479 C433,486 430.5,494 427.5,500.5 M496.7,462.9 C493,469 488,478 484.8,486 " fill="none" stroke="#2b3036" stroke-width="3.5" stroke-linecap="round" stroke-linejoin="round"/><circle cx="460" cy="473.4" r="1.05" fill="#2b3036"/><circle cx="464.8" cy="473" r="1.05" fill="#2b3036"/><svg x="524.3" y="446.8" width="84.7" height="100.5" viewBox="0 0 84.7 100.5" overflow="hidden"><rect width="84.7" height="100.5" fill="#1d3d20"/><rect x="0" y="38" width="22" height="40" fill="#0f1d12"/><ellipse cx="17.7" cy="30.9" rx="13.8" ry="1.3" transform="rotate(-211.6 17.7 30.9)" fill="#2b5e2a"/><ellipse cx="16.1" cy="28.9" rx="14.4" ry="1.1" transform="rotate(-201.4 16.1 28.9)" fill="#3f7a34"/><ellipse cx="14.3" cy="28.3" rx="15.9" ry="1.3" transform="rotate(-196.9 14.3 28.3)" fill="#336d2f"/><ellipse cx="12.7" cy="25.9" rx="17.0" ry="1.4" transform="rotate(-187.6 12.7 25.9)" fill="#4f8a3c"/><ellipse cx="16.2" cy="22.8" rx="13.3" ry="1.5" transform="rotate(-176.0 16.2 22.8)" fill="#22502a"/><ellipse cx="15.2" cy="21.7" rx="14.4" ry="1.6" transform="rotate(-172.1 15.2 21.7)" fill="#5e9846"/><ellipse cx="15.1" cy="19.0" rx="15.2" ry="1.5" transform="rotate(-161.9 15.1 19.0)" fill="#1d4423"/><ellipse cx="15.4" cy="17.6" rx="15.3" ry="1.5" transform="rotate(-156.6 15.4 17.6)" fill="#6fa552"/><ellipse cx="20.9" cy="18.2" rx="10.2" ry="1.6" transform="rotate(-147.2 20.9 18.2)" fill="#2b5e2a"/><ellipse cx="18.3" cy="13.7" rx="15.0" ry="1.6" transform="rotate(-138.2 18.3 13.7)" fill="#3f7a34"/><ellipse cx="19.2" cy="10.9" rx="16.4" ry="1.3" transform="rotate(-128.7 19.2 10.9)" fill="#336d2f"/><ellipse cx="22.9" cy="12.4" rx="13.1" ry="1.7" transform="rotate(-120.2 22.9 12.4)" fill="#4f8a3c"/><ellipse cx="25.5" cy="13.8" rx="10.7" ry="1.2" transform="rotate(-111.7 25.5 13.8)" fill="#22502a"/><ellipse cx="24.4" cy="7.7" rx="16.8" ry="1.4" transform="rotate(-107.7 24.4 7.7)" fill="#5e9846"/><ellipse cx="28.0" cy="11.7" rx="12.1" ry="1.4" transform="rotate(-97.2 28.0 11.7)" fill="#1d4423"/><ellipse cx="29.4" cy="11.2" rx="12.5" ry="1.5" transform="rotate(-90.7 29.4 11.2)" fill="#6fa552"/><ellipse cx="31.9" cy="7.6" rx="16.3" ry="1.5" transform="rotate(-81.5 31.9 7.6)" fill="#2b5e2a"/><ellipse cx="34.6" cy="8.5" rx="16.0" ry="1.7" transform="rotate(-71.4 34.6 8.5)" fill="#3f7a34"/><ellipse cx="34.2" cy="13.6" rx="11.1" ry="1.6" transform="rotate(-65.0 34.2 13.6)" fill="#336d2f"/><ellipse cx="38.8" cy="10.3" rx="16.3" ry="1.4" transform="rotate(-55.2 38.8 10.3)" fill="#4f8a3c"/><ellipse cx="37.1" cy="15.1" rx="11.5" ry="1.6" transform="rotate(-48.7 37.1 15.1)" fill="#22502a"/><ellipse cx="38.5" cy="15.7" rx="12.0" ry="1.1" transform="rotate(-41.6 38.5 15.7)" fill="#5e9846"/><ellipse cx="43.9" cy="14.8" rx="16.9" ry="1.2" transform="rotate(-31.9 43.9 14.8)" fill="#1d4423"/><ellipse cx="41.2" cy="18.4" rx="12.9" ry="1.2" transform="rotate(-24.2 41.2 18.4)" fill="#6fa552"/><ellipse cx="44.0" cy="18.6" rx="15.4" ry="1.6" transform="rotate(-19.2 44.0 18.6)" fill="#2b5e2a"/><ellipse cx="43.4" cy="20.5" rx="14.3" ry="1.1" transform="rotate(-12.7 43.4 20.5)" fill="#3f7a34"/><ellipse cx="41.8" cy="23.6" rx="12.3" ry="1.6" transform="rotate(-0.7 41.8 23.6)" fill="#336d2f"/><ellipse cx="42.9" cy="25.8" rx="13.5" ry="1.7" transform="rotate(8.9 42.9 25.8)" fill="#4f8a3c"/><ellipse cx="39.8" cy="26.0" rx="10.5" ry="1.5" transform="rotate(12.9 39.8 26.0)" fill="#22502a"/><ellipse cx="40.2" cy="27.4" rx="11.4" ry="1.3" transform="rotate(19.2 40.2 27.4)" fill="#5e9846"/><ellipse cx="6.7" cy="8.8" rx="8.5" ry="1.0" transform="rotate(-198.9 6.7 8.8)" fill="#2b5e2a"/><ellipse cx="30.1" cy="14.5" rx="6.8" ry="1.1" transform="rotate(-180.4 30.1 14.5)" fill="#4f8a3c"/><ellipse cx="20.5" cy="17.5" rx="7.5" ry="1.3" transform="rotate(-168.6 20.5 17.5)" fill="#1d4423"/><ellipse cx="17.5" cy="20.5" rx="6.0" ry="1.0" transform="rotate(-154.9 17.5 20.5)" fill="#3f7a34"/><ellipse cx="22.1" cy="15.2" rx="5.0" ry="1.0" transform="rotate(-135.2 22.1 15.2)" fill="#22502a"/><ellipse cx="6.4" cy="14.2" rx="7.5" ry="0.8" transform="rotate(-124.2 6.4 14.2)" fill="#6fa552"/><ellipse cx="21.9" cy="15.9" rx="6.4" ry="1.2" transform="rotate(-108.7 21.9 15.9)" fill="#336d2f"/><ellipse cx="10.3" cy="-1.2" rx="7.7" ry="1.3" transform="rotate(-92.6 10.3 -1.2)" fill="#5e9846"/><ellipse cx="24.5" cy="13.6" rx="6.3" ry="1.0" transform="rotate(-82.5 24.5 13.6)" fill="#2b5e2a"/><ellipse cx="23.5" cy="14.2" rx="6.2" ry="1.0" transform="rotate(-66.9 23.5 14.2)" fill="#4f8a3c"/><ellipse cx="16.2" cy="13.4" rx="7.9" ry="1.0" transform="rotate(-47.3 16.2 13.4)" fill="#1d4423"/><ellipse cx="38.7" cy="7.4" rx="5.7" ry="1.0" transform="rotate(-37.8 38.7 7.4)" fill="#3f7a34"/><ellipse cx="19.1" cy="11.1" rx="6.3" ry="1.2" transform="rotate(-18.0 19.1 11.1)" fill="#22502a"/><ellipse cx="42.0" cy="8.6" rx="6.3" ry="1.1" transform="rotate(-5.6 42.0 8.6)" fill="#6fa552"/><ellipse cx="28.9" cy="11.9" rx="5.5" ry="1.1" transform="rotate(13.8 28.9 11.9)" fill="#336d2f"/><ellipse cx="39.5" cy="28.1" rx="5.7" ry="0.9" transform="rotate(21.9 39.5 28.1)" fill="#5e9846"/><ellipse cx="86.3" cy="36.7" rx="12.9" ry="1.6" transform="rotate(97.5 86.3 36.7)" fill="#336d2f"/><ellipse cx="85.7" cy="33.5" rx="9.8" ry="1.3" transform="rotate(103.8 85.7 33.5)" fill="#4f8a3c"/><ellipse cx="83.1" cy="33.4" rx="10.6" ry="1.3" transform="rotate(117.4 83.1 33.4)" fill="#22502a"/><ellipse cx="81.5" cy="33.5" rx="11.5" ry="1.3" transform="rotate(124.3 81.5 33.5)" fill="#5e9846"/><ellipse cx="80.6" cy="30.6" rx="9.9" ry="1.1" transform="rotate(138.4 80.6 30.6)" fill="#1d4423"/><ellipse cx="75.8" cy="31.5" rx="14.3" ry="1.7" transform="rotate(148.5 75.8 31.5)" fill="#6fa552"/><ellipse cx="74.7" cy="30.3" rx="14.7" ry="1.7" transform="rotate(154.5 74.7 30.3)" fill="#2b5e2a"/><ellipse cx="75.1" cy="28.0" rx="13.5" ry="1.6" transform="rotate(162.8 75.1 28.0)" fill="#3f7a34"/><ellipse cx="75.9" cy="24.8" rx="12.1" ry="1.3" transform="rotate(176.3 75.9 24.8)" fill="#336d2f"/><ellipse cx="77.7" cy="23.3" rx="10.4" ry="1.1" transform="rotate(183.7 77.7 23.3)" fill="#4f8a3c"/><ellipse cx="77.7" cy="21.1" rx="10.7" ry="1.6" transform="rotate(195.7 77.7 21.1)" fill="#22502a"/><ellipse cx="74.6" cy="18.7" rx="14.4" ry="1.5" transform="rotate(201.4 74.6 18.7)" fill="#5e9846"/><ellipse cx="76.7" cy="15.1" rx="14.4" ry="1.6" transform="rotate(218.4 76.7 15.1)" fill="#1d4423"/><ellipse cx="81.6" cy="17.5" rx="9.1" ry="1.5" transform="rotate(225.6 81.6 17.5)" fill="#6fa552"/><ellipse cx="81.4" cy="15.4" rx="10.8" ry="1.5" transform="rotate(232.4 81.4 15.4)" fill="#2b5e2a"/><ellipse cx="83.2" cy="13.6" rx="11.5" ry="1.7" transform="rotate(245.2 83.2 13.6)" fill="#3f7a34"/><ellipse cx="85.3" cy="13.3" rx="11.0" ry="1.3" transform="rotate(255.9 85.3 13.3)" fill="#336d2f"/><ellipse cx="87.6" cy="12.1" rx="11.9" ry="1.6" transform="rotate(267.9 87.6 12.1)" fill="#4f8a3c"/><ellipse cx="3.4" cy="55.6" rx="8.4" ry="1.3" transform="rotate(-50.0 3.4 55.6)" fill="#3f7a34"/><ellipse cx="4.3" cy="57.4" rx="7.8" ry="1.3" transform="rotate(-36.0 4.3 57.4)" fill="#336d2f"/><ellipse cx="6.5" cy="58.6" rx="9.1" ry="1.3" transform="rotate(-22.0 6.5 58.6)" fill="#4f8a3c"/><ellipse cx="8.2" cy="60.6" rx="10.3" ry="1.3" transform="rotate(-8.0 8.2 60.6)" fill="#22502a"/><ellipse cx="5.6" cy="62.8" rx="7.7" ry="1.3" transform="rotate(6.0 5.6 62.8)" fill="#5e9846"/><ellipse cx="7.6" cy="65.5" rx="10.2" ry="1.3" transform="rotate(20.0 7.6 65.5)" fill="#1d4423"/><ellipse cx="6.9" cy="68.0" rx="10.7" ry="1.3" transform="rotate(34.0 6.9 68.0)" fill="#6fa552"/><ellipse cx="4.8" cy="69.6" rx="10.2" ry="1.3" transform="rotate(48.0 4.8 69.6)" fill="#2b5e2a"/><path d="M68,40 l14,-9 M72,46 l12,-5 M8,30 l16,-4 M10,12 l14,6 M30,4 l10,12 M76,30 l8,-10 M4,52 l12,-3" stroke="#a9d07c" stroke-width="1.1" opacity="0.75"/><rect x="17.7" y="42.8" width="8.6" height="14" fill="#bdb6ae"/><rect x="64" y="70" width="8" height="8" fill="#9aa0a6" opacity="0.6"/><path d="M42.5,34 C41,24 42,12 48,7 C53,3.5 62,4 67,9 C71,14 71,24 70,32 C68,35 64,34 63,33 L47,33 C45,35 43,35 42.5,34 Z" fill="#c9c0b1"/><path d="M49,30 L61,30 L63,45 L55,58 L47,45 Z" fill="#dfa68a"/><ellipse cx="55.3" cy="24.5" rx="8.6" ry="10" fill="#e8b79c"/><path d="M45,20 C45,11 50,7 56,7 C62,7 67,11 67,19 C64,13 59,11 55,11 C50,11 47,14 45,20 Z" fill="#d3cbbf"/><path d="M44,16 C43,22 44,28 46,33 L44,34 C42,28 42,21 44,16 Z M66.5,16 C68,22 68,28 66,33 L68.5,33 C70,27 70,21 66.5,16 Z" fill="#bfb5a6"/><rect x="47" y="19.5" width="7.2" height="5" rx="1.6" fill="#9b8f88" fill-opacity="0.35" stroke="#4a3f3b" stroke-width="0.9"/><rect x="56.3" y="19.5" width="7.2" height="5" rx="1.6" fill="#9b8f88" fill-opacity="0.35" stroke="#4a3f3b" stroke-width="0.9"/><path d="M54.2,21.5 h2.1" stroke="#4a3f3b" stroke-width="0.8"/><path d="M51.5,28.6 q3.8,2.4 7.6,0 q-3.8,1.2 -7.6,0 z" fill="#f6f1ec" stroke="#bf5a5a" stroke-width="0.6"/><path d="M13.7,62 C15,50 22,40 32,36 C37,34 42,33 46,33 L55,55 L64,33 C70,34 76,37 80,43 C84,50 84.7,58 84.7,66 L84.7,72 C80,74 74,72 70,70 L66,76 L44,77.8 C36,77 28,74 20,72 C16,70 14,67 13.7,62 Z" fill="#c8692f"/><path d="M46,33 L55,55 L64,33 L61,33 L55,47 L49,33 Z" fill="#dfa68a"/><clipPath id="blz"><path d="M13.7,62 C15,50 22,40 32,36 C37,34 42,33 46,33 L55,55 L64,33 C70,34 76,37 80,43 C84,50 84.7,58 84.7,66 L84.7,72 C80,74 74,72 70,70 L66,76 L44,77.8 C36,77 28,74 20,72 C16,70 14,67 13.7,62 Z"/></clipPath><g clip-path="url(#blz)"><ellipse cx="45.5" cy="57.7" rx="3.1" ry="2.1" transform="rotate(91 45.5 57.7)" fill="#e6a3c6" opacity="0.85"/><ellipse cx="49.9" cy="61.0" rx="2.8" ry="1.5" transform="rotate(55 49.9 61.0)" fill="#b4521e" opacity="0.85"/><ellipse cx="18.7" cy="69.2" rx="2.6" ry="1.4" transform="rotate(177 18.7 69.2)" fill="#e6a3c6" opacity="0.85"/><ellipse cx="83.4" cy="62.1" rx="2.5" ry="1.4" transform="rotate(3 83.4 62.1)" fill="#eadbd0" opacity="0.85"/><ellipse cx="51.1" cy="34.7" rx="1.7" ry="1.0" transform="rotate(5 51.1 34.7)" fill="#d98ab3" opacity="0.85"/><ellipse cx="46.3" cy="52.3" rx="2.9" ry="2.1" transform="rotate(115 46.3 52.3)" fill="#f4ece4" opacity="0.85"/><ellipse cx="49.0" cy="62.5" rx="2.2" ry="1.3" transform="rotate(180 49.0 62.5)" fill="#a9471a" opacity="0.85"/><ellipse cx="85.7" cy="70.6" rx="2.6" ry="1.7" transform="rotate(41 85.7 70.6)" fill="#e6a3c6" opacity="0.85"/><ellipse cx="33.4" cy="35.2" rx="2.8" ry="1.8" transform="rotate(152 33.4 35.2)" fill="#f0e3d8" opacity="0.85"/><ellipse cx="40.6" cy="76.1" rx="2.9" ry="1.5" transform="rotate(38 40.6 76.1)" fill="#b4521e" opacity="0.85"/><ellipse cx="79.4" cy="53.6" rx="3.2" ry="2.1" transform="rotate(13 79.4 53.6)" fill="#e6a3c6" opacity="0.85"/><ellipse cx="58.6" cy="67.8" rx="1.8" ry="1.0" transform="rotate(60 58.6 67.8)" fill="#eadbd0" opacity="0.85"/><ellipse cx="83.3" cy="66.9" rx="1.5" ry="0.9" transform="rotate(18 83.3 66.9)" fill="#d98ab3" opacity="0.85"/><ellipse cx="16.4" cy="68.7" rx="1.6" ry="1.2" transform="rotate(81 16.4 68.7)" fill="#f4ece4" opacity="0.85"/><ellipse cx="26.1" cy="65.7" rx="1.5" ry="1.2" transform="rotate(21 26.1 65.7)" fill="#a9471a" opacity="0.85"/><ellipse cx="43.1" cy="41.8" rx="1.8" ry="1.6" transform="rotate(145 43.1 41.8)" fill="#e6a3c6" opacity="0.85"/><ellipse cx="34.5" cy="72.7" rx="1.7" ry="1.1" transform="rotate(154 34.5 72.7)" fill="#f0e3d8" opacity="0.85"/><ellipse cx="59.5" cy="36.6" rx="3.2" ry="1.9" transform="rotate(46 59.5 36.6)" fill="#b4521e" opacity="0.85"/><ellipse cx="69.2" cy="47.1" rx="1.9" ry="1.0" transform="rotate(16 69.2 47.1)" fill="#e6a3c6" opacity="0.85"/><ellipse cx="45.5" cy="76.1" rx="2.2" ry="1.6" transform="rotate(156 45.5 76.1)" fill="#f4ece4" opacity="0.85"/><ellipse cx="25.5" cy="39.1" rx="3.0" ry="2.5" transform="rotate(45 25.5 39.1)" fill="#a9471a" opacity="0.85"/><ellipse cx="26.0" cy="66.0" rx="3.1" ry="1.8" transform="rotate(171 26.0 66.0)" fill="#e6a3c6" opacity="0.85"/><ellipse cx="77.3" cy="59.8" rx="2.1" ry="1.1" transform="rotate(7 77.3 59.8)" fill="#f0e3d8" opacity="0.85"/><ellipse cx="83.2" cy="43.0" rx="2.6" ry="1.6" transform="rotate(148 83.2 43.0)" fill="#b4521e" opacity="0.85"/><ellipse cx="25.0" cy="65.1" rx="1.4" ry="0.8" transform="rotate(101 25.0 65.1)" fill="#eadbd0" opacity="0.85"/><ellipse cx="75.1" cy="60.3" rx="1.8" ry="1.6" transform="rotate(37 75.1 60.3)" fill="#d98ab3" opacity="0.85"/><ellipse cx="13.2" cy="44.4" rx="2.1" ry="1.1" transform="rotate(32 13.2 44.4)" fill="#f4ece4" opacity="0.85"/><ellipse cx="39.3" cy="58.3" rx="1.5" ry="1.0" transform="rotate(160 39.3 58.3)" fill="#a9471a" opacity="0.85"/><ellipse cx="84.6" cy="62.2" rx="2.6" ry="1.9" transform="rotate(25 84.6 62.2)" fill="#e6a3c6" opacity="0.85"/><ellipse cx="14.6" cy="32.8" rx="3.0" ry="2.4" transform="rotate(173 14.6 32.8)" fill="#f0e3d8" opacity="0.85"/><ellipse cx="13.6" cy="61.3" rx="2.2" ry="1.8" transform="rotate(57 13.6 61.3)" fill="#b4521e" opacity="0.85"/><ellipse cx="86.0" cy="35.5" rx="2.3" ry="1.9" transform="rotate(162 86.0 35.5)" fill="#e6a3c6" opacity="0.85"/><ellipse cx="66.5" cy="64.4" rx="2.8" ry="2.4" transform="rotate(63 66.5 64.4)" fill="#eadbd0" opacity="0.85"/><ellipse cx="62.7" cy="73.4" rx="3.0" ry="2.0" transform="rotate(142 62.7 73.4)" fill="#d98ab3" opacity="0.85"/><ellipse cx="75.9" cy="58.3" rx="2.5" ry="1.6" transform="rotate(105 75.9 58.3)" fill="#f4ece4" opacity="0.85"/><ellipse cx="59.3" cy="77.7" rx="3.0" ry="2.4" transform="rotate(70 59.3 77.7)" fill="#e6a3c6" opacity="0.85"/><ellipse cx="66.4" cy="58.7" rx="2.1" ry="1.8" transform="rotate(15 66.4 58.7)" fill="#f0e3d8" opacity="0.85"/><ellipse cx="67.5" cy="33.4" rx="2.4" ry="1.7" transform="rotate(41 67.5 33.4)" fill="#b4521e" opacity="0.85"/><ellipse cx="63.7" cy="54.9" rx="2.5" ry="2.1" transform="rotate(46 63.7 54.9)" fill="#e6a3c6" opacity="0.85"/><ellipse cx="12.8" cy="45.8" rx="2.6" ry="1.5" transform="rotate(31 12.8 45.8)" fill="#eadbd0" opacity="0.85"/><ellipse cx="79.0" cy="62.4" rx="2.1" ry="1.8" transform="rotate(59 79.0 62.4)" fill="#d98ab3" opacity="0.85"/><ellipse cx="61.3" cy="41.1" rx="2.1" ry="1.7" transform="rotate(165 61.3 41.1)" fill="#f4ece4" opacity="0.85"/><ellipse cx="77.1" cy="49.7" rx="2.4" ry="1.5" transform="rotate(25 77.1 49.7)" fill="#a9471a" opacity="0.85"/><ellipse cx="48.7" cy="70.5" rx="2.9" ry="2.3" transform="rotate(171 48.7 70.5)" fill="#e6a3c6" opacity="0.85"/><ellipse cx="32.5" cy="39.8" rx="2.2" ry="1.3" transform="rotate(39 32.5 39.8)" fill="#f0e3d8" opacity="0.85"/><ellipse cx="42.6" cy="60.8" rx="2.2" ry="1.4" transform="rotate(151 42.6 60.8)" fill="#b4521e" opacity="0.85"/><ellipse cx="84.7" cy="52.8" rx="1.4" ry="0.7" transform="rotate(157 84.7 52.8)" fill="#e6a3c6" opacity="0.85"/><ellipse cx="15.1" cy="64.6" rx="2.4" ry="1.5" transform="rotate(142 15.1 64.6)" fill="#eadbd0" opacity="0.85"/><ellipse cx="13.4" cy="38.3" rx="2.2" ry="1.1" transform="rotate(149 13.4 38.3)" fill="#d98ab3" opacity="0.85"/><ellipse cx="29.6" cy="38.5" rx="1.4" ry="1.0" transform="rotate(80 29.6 38.5)" fill="#f4ece4" opacity="0.85"/><ellipse cx="58.6" cy="62.1" rx="2.8" ry="2.5" transform="rotate(123 58.6 62.1)" fill="#a9471a" opacity="0.85"/><ellipse cx="26.8" cy="53.9" rx="1.6" ry="0.8" transform="rotate(85 26.8 53.9)" fill="#e6a3c6" opacity="0.85"/><ellipse cx="64.8" cy="40.2" rx="1.8" ry="1.2" transform="rotate(126 64.8 40.2)" fill="#f0e3d8" opacity="0.85"/><ellipse cx="50.5" cy="60.3" rx="2.7" ry="1.8" transform="rotate(143 50.5 60.3)" fill="#b4521e" opacity="0.85"/><ellipse cx="79.1" cy="36.0" rx="3.1" ry="2.4" transform="rotate(23 79.1 36.0)" fill="#e6a3c6" opacity="0.85"/><ellipse cx="45.6" cy="60.8" rx="3.0" ry="2.0" transform="rotate(102 45.6 60.8)" fill="#eadbd0" opacity="0.85"/><ellipse cx="77.1" cy="68.7" rx="3.1" ry="2.1" transform="rotate(117 77.1 68.7)" fill="#d98ab3" opacity="0.85"/><ellipse cx="27.2" cy="65.2" rx="2.9" ry="2.2" transform="rotate(129 27.2 65.2)" fill="#f4ece4" opacity="0.85"/><ellipse cx="27.8" cy="73.4" rx="3.2" ry="2.8" transform="rotate(97 27.8 73.4)" fill="#a9471a" opacity="0.85"/><ellipse cx="70.5" cy="46.7" rx="3.0" ry="2.6" transform="rotate(63 70.5 46.7)" fill="#e6a3c6" opacity="0.85"/><ellipse cx="18.1" cy="52.3" rx="2.3" ry="1.9" transform="rotate(88 18.1 52.3)" fill="#f0e3d8" opacity="0.85"/><ellipse cx="14.1" cy="69.2" rx="1.4" ry="1.2" transform="rotate(31 14.1 69.2)" fill="#b4521e" opacity="0.85"/><ellipse cx="36.8" cy="68.2" rx="1.6" ry="0.9" transform="rotate(93 36.8 68.2)" fill="#e6a3c6" opacity="0.85"/><ellipse cx="65.5" cy="70.6" rx="2.6" ry="2.3" transform="rotate(89 65.5 70.6)" fill="#eadbd0" opacity="0.85"/><ellipse cx="82.2" cy="36.0" rx="1.7" ry="1.2" transform="rotate(52 82.2 36.0)" fill="#d98ab3" opacity="0.85"/><ellipse cx="65.9" cy="61.4" rx="2.3" ry="1.9" transform="rotate(101 65.9 61.4)" fill="#f4ece4" opacity="0.85"/><ellipse cx="35.1" cy="49.5" rx="2.9" ry="2.5" transform="rotate(37 35.1 49.5)" fill="#a9471a" opacity="0.85"/><ellipse cx="75.0" cy="76.5" rx="2.3" ry="1.7" transform="rotate(36 75.0 76.5)" fill="#e6a3c6" opacity="0.85"/><ellipse cx="51.7" cy="55.1" rx="2.4" ry="1.3" transform="rotate(174 51.7 55.1)" fill="#f0e3d8" opacity="0.85"/><ellipse cx="71.3" cy="57.9" rx="2.2" ry="1.7" transform="rotate(12 71.3 57.9)" fill="#e6a3c6" opacity="0.85"/><ellipse cx="82.8" cy="74.5" rx="1.8" ry="1.2" transform="rotate(23 82.8 74.5)" fill="#d98ab3" opacity="0.85"/><ellipse cx="44.1" cy="69.5" rx="3.0" ry="2.1" transform="rotate(57 44.1 69.5)" fill="#f4ece4" opacity="0.85"/><ellipse cx="26.2" cy="60.4" rx="3.1" ry="1.7" transform="rotate(140 26.2 60.4)" fill="#a9471a" opacity="0.85"/><ellipse cx="13.7" cy="40.9" rx="1.7" ry="1.3" transform="rotate(58 13.7 40.9)" fill="#e6a3c6" opacity="0.85"/><ellipse cx="38.3" cy="60.5" rx="1.5" ry="1.2" transform="rotate(22 38.3 60.5)" fill="#f0e3d8" opacity="0.85"/><ellipse cx="26.6" cy="56.4" rx="2.1" ry="1.4" transform="rotate(74 26.6 56.4)" fill="#e6a3c6" opacity="0.85"/><ellipse cx="27.1" cy="61.0" rx="2.5" ry="1.8" transform="rotate(153 27.1 61.0)" fill="#d98ab3" opacity="0.85"/><ellipse cx="57.3" cy="71.4" rx="1.7" ry="1.4" transform="rotate(146 57.3 71.4)" fill="#f4ece4" opacity="0.85"/><ellipse cx="78.8" cy="46.5" rx="1.9" ry="1.6" transform="rotate(39 78.8 46.5)" fill="#a9471a" opacity="0.85"/><ellipse cx="85.9" cy="72.8" rx="1.6" ry="0.9" transform="rotate(131 85.9 72.8)" fill="#e6a3c6" opacity="0.85"/><ellipse cx="31.2" cy="36.5" rx="2.9" ry="1.9" transform="rotate(142 31.2 36.5)" fill="#f0e3d8" opacity="0.85"/><ellipse cx="21.3" cy="50.5" rx="2.6" ry="1.3" transform="rotate(36 21.3 50.5)" fill="#b4521e" opacity="0.85"/><ellipse cx="62.5" cy="73.9" rx="3.1" ry="1.7" transform="rotate(91 62.5 73.9)" fill="#e6a3c6" opacity="0.85"/><ellipse cx="68.1" cy="55.1" rx="2.6" ry="1.5" transform="rotate(13 68.1 55.1)" fill="#eadbd0" opacity="0.85"/><ellipse cx="19.9" cy="33.7" rx="2.3" ry="1.7" transform="rotate(102 19.9 33.7)" fill="#d98ab3" opacity="0.85"/><ellipse cx="22.8" cy="40.5" rx="1.7" ry="1.4" transform="rotate(178 22.8 40.5)" fill="#f4ece4" opacity="0.85"/><ellipse cx="80.6" cy="36.4" rx="1.4" ry="1.2" transform="rotate(83 80.6 36.4)" fill="#a9471a" opacity="0.85"/><ellipse cx="68.6" cy="47.0" rx="2.2" ry="1.5" transform="rotate(77 68.6 47.0)" fill="#e6a3c6" opacity="0.85"/><ellipse cx="56.5" cy="32.6" rx="2.6" ry="2.2" transform="rotate(33 56.5 32.6)" fill="#f0e3d8" opacity="0.85"/><ellipse cx="45.6" cy="66.0" rx="2.1" ry="1.2" transform="rotate(30 45.6 66.0)" fill="#b4521e" opacity="0.85"/><ellipse cx="49.9" cy="32.7" rx="3.0" ry="2.5" transform="rotate(127 49.9 32.7)" fill="#e6a3c6" opacity="0.85"/><ellipse cx="75.7" cy="61.0" rx="2.1" ry="1.5" transform="rotate(91 75.7 61.0)" fill="#eadbd0" opacity="0.85"/><ellipse cx="84.7" cy="69.0" rx="1.8" ry="1.5" transform="rotate(134 84.7 69.0)" fill="#d98ab3" opacity="0.85"/><ellipse cx="69.6" cy="69.5" rx="2.1" ry="1.8" transform="rotate(158 69.6 69.5)" fill="#f4ece4" opacity="0.85"/><ellipse cx="63.4" cy="67.3" rx="2.8" ry="1.8" transform="rotate(130 63.4 67.3)" fill="#a9471a" opacity="0.85"/><ellipse cx="17.2" cy="47.7" rx="2.2" ry="1.1" transform="rotate(64 17.2 47.7)" fill="#e6a3c6" opacity="0.85"/><ellipse cx="59.3" cy="60.7" rx="1.7" ry="1.5" transform="rotate(120 59.3 60.7)" fill="#f0e3d8" opacity="0.85"/><ellipse cx="37.0" cy="62.3" rx="2.4" ry="1.7" transform="rotate(70 37.0 62.3)" fill="#b4521e" opacity="0.85"/><ellipse cx="86.0" cy="61.5" rx="2.6" ry="2.1" transform="rotate(176 86.0 61.5)" fill="#e6a3c6" opacity="0.85"/><ellipse cx="13.7" cy="60.3" rx="2.7" ry="1.6" transform="rotate(72 13.7 60.3)" fill="#eadbd0" opacity="0.85"/><ellipse cx="15.7" cy="41.0" rx="2.0" ry="1.1" transform="rotate(45 15.7 41.0)" fill="#d98ab3" opacity="0.85"/><ellipse cx="79.0" cy="57.3" rx="2.3" ry="2.0" transform="rotate(102 79.0 57.3)" fill="#f4ece4" opacity="0.85"/><ellipse cx="85.6" cy="61.3" rx="2.8" ry="1.5" transform="rotate(108 85.6 61.3)" fill="#a9471a" opacity="0.85"/><ellipse cx="68.2" cy="34.1" rx="3.1" ry="1.7" transform="rotate(85 68.2 34.1)" fill="#e6a3c6" opacity="0.85"/><ellipse cx="24.5" cy="54.8" rx="2.5" ry="1.3" transform="rotate(170 24.5 54.8)" fill="#f0e3d8" opacity="0.85"/><ellipse cx="43.1" cy="56.2" rx="2.4" ry="1.6" transform="rotate(51 43.1 56.2)" fill="#b4521e" opacity="0.85"/><ellipse cx="60.5" cy="57.8" rx="1.8" ry="1.4" transform="rotate(53 60.5 57.8)" fill="#e6a3c6" opacity="0.85"/><ellipse cx="13.0" cy="43.3" rx="1.4" ry="0.8" transform="rotate(136 13.0 43.3)" fill="#eadbd0" opacity="0.85"/><ellipse cx="40.9" cy="73.3" rx="2.7" ry="1.4" transform="rotate(178 40.9 73.3)" fill="#d98ab3" opacity="0.85"/><ellipse cx="81.9" cy="35.4" rx="3.0" ry="2.0" transform="rotate(86 81.9 35.4)" fill="#f4ece4" opacity="0.85"/><ellipse cx="84.0" cy="43.2" rx="2.3" ry="2.0" transform="rotate(130 84.0 43.2)" fill="#a9471a" opacity="0.85"/><ellipse cx="46.7" cy="77.0" rx="2.9" ry="2.1" transform="rotate(21 46.7 77.0)" fill="#e6a3c6" opacity="0.85"/><ellipse cx="58.2" cy="53.0" rx="1.7" ry="0.9" transform="rotate(95 58.2 53.0)" fill="#f0e3d8" opacity="0.85"/><ellipse cx="21.2" cy="52.4" rx="2.6" ry="1.8" transform="rotate(47 21.2 52.4)" fill="#b4521e" opacity="0.85"/><ellipse cx="69.6" cy="56.4" rx="3.2" ry="2.8" transform="rotate(132 69.6 56.4)" fill="#eadbd0" opacity="0.85"/><ellipse cx="29.6" cy="37.2" rx="3.0" ry="2.4" transform="rotate(112 29.6 37.2)" fill="#d98ab3" opacity="0.85"/><ellipse cx="38.6" cy="44.5" rx="2.6" ry="1.9" transform="rotate(107 38.6 44.5)" fill="#f4ece4" opacity="0.85"/><ellipse cx="58.8" cy="66.7" rx="1.7" ry="1.0" transform="rotate(176 58.8 66.7)" fill="#a9471a" opacity="0.85"/><ellipse cx="79.8" cy="72.4" rx="1.4" ry="0.7" transform="rotate(49 79.8 72.4)" fill="#e6a3c6" opacity="0.85"/><ellipse cx="43.5" cy="60.7" rx="1.5" ry="1.1" transform="rotate(13 43.5 60.7)" fill="#f0e3d8" opacity="0.85"/></g><path d="M15,64 C18,71 27,74 37,70 L41,66 C44,64 45,68 42,72 C38,77 27,79 19,76 C15,74 13.7,70 15,64 Z" fill="#e2ab8f"/><ellipse cx="40" cy="67.5" rx="4" ry="3.2" fill="#e8b79c"/><path d="M42,66 L49,74" stroke="#c9c9c9" stroke-width="0.7"/><path d="M84.7,68 C82,74 77,78 70,80 C66,81 64,84 66,86 C70,88 76,86 80,83 C83,81 84.7,78 84.7,76 Z" fill="#e2ab8f"/><rect x="0" y="77.8" width="84.7" height="22.7" fill="#a69a8e"/><path d="M0,82 H84.7 M0,86.5 H84.7 M0,91 H84.7 M0,95.5 H84.7" stroke="#92877c" stroke-width="0.6"/><path d="M0,84 H30 M40,89 H84.7 M10,93 H60" stroke="#c6bcb2" stroke-width="0.8"/><path d="M0,88.5 C6,87 14,89 20,91.5 C24,94 26,98 24.5,100.5 L0,100.5 Z" fill="#f1eeea"/><path d="M66,98 C72,96.5 80,97 84.7,97.5 L84.7,100.5 L64,100.5 Z" fill="#efebe6"/><path d="M40.7,75 C41,82 46,86.2 51.8,86.2 C57.6,86.2 62.6,82 62.9,75 Z" fill="#f7f6f2"/><ellipse cx="51.8" cy="75" rx="11.1" ry="3.4" fill="#f0eee8"/><ellipse cx="51.8" cy="75.2" rx="9" ry="2.4" fill="#e3dcb4"/><path d="M44,74.5 l3,-1.5 l1,2 M56,75 l3,-1 l1,1.5" stroke="#5a9a44" stroke-width="1" fill="none"/><ellipse cx="70" cy="83" rx="5" ry="3.2" fill="#e8b79c"/></svg><path d="M539.3,561.7 Q539.3,557.7 543.3,557.7 L721,557.7 Q725,557.7 725,561.7 L725,679.5 L539.3,679.5 Z" fill="#0b0b0c"/><path d="M540.3,562 Q540.3,558.7 543.5,558.7 L720.8,558.7 Q724,558.7 724,562" fill="none" stroke="#3a3b3e" stroke-width="0.8"/><path d="M541.2,560.3 L723.3,560.3 L723.3,666.5 Q723.3,669.3 720.5,669.3 L544,669.3 Q541.2,669.3 541.2,666.5 Z" fill="#ffffff"/><path d="M600,670 L690,670 L700,678.5 L610,678.5 Z" fill="#1e1f22" opacity="0.7"/><path d="M510.5,678.8 L751.5,678.8 Q754.5,678.8 754.5,681.3 Q754.5,684 751.5,684 L510.5,684 Q507.8,684 507.8,681.3 Q507.8,678.8 510.5,678.8 Z" fill="url(#lbase)"/><rect x="508" y="678.8" width="6" height="5.2" rx="2" fill="#4c4d50"/><rect x="748.5" y="678.8" width="6" height="5.2" rx="2" fill="#4c4d50"/><text x="549" y="568.6" font-family="Liberation Sans, sans-serif" font-weight="bold" font-size="4.6" fill="#2b3036" textLength="87.5" lengthAdjust="spacingAndGlyphs">Dein Darmglück Frühstück – Beobachtungen</text><rect x="548.8" y="572.3" width="166.4" height="10.9" fill="#3a78a6"/><rect x="548.55" y="583.2" width="0.5" height="81.79999999999995" fill="#e3e6e9"/><rect x="548.55" y="572.3" width="0.5" height="10.9" fill="#6b9cc2"/><rect x="564.25" y="583.2" width="0.5" height="81.79999999999995" fill="#e3e6e9"/><rect x="564.25" y="572.3" width="0.5" height="10.9" fill="#6b9cc2"/><rect x="590.75" y="583.2" width="0.5" height="81.79999999999995" fill="#e3e6e9"/><rect x="590.75" y="572.3" width="0.5" height="10.9" fill="#6b9cc2"/><rect x="619.75" y="583.2" width="0.5" height="81.79999999999995" fill="#e3e6e9"/><rect x="619.75" y="572.3" width="0.5" height="10.9" fill="#6b9cc2"/><rect x="648.45" y="583.2" width="0.5" height="81.79999999999995" fill="#e3e6e9"/><rect x="648.45" y="572.3" width="0.5" height="10.9" fill="#6b9cc2"/><rect x="666.75" y="583.2" width="0.5" height="81.79999999999995" fill="#e3e6e9"/><rect x="666.75" y="572.3" width="0.5" height="10.9" fill="#6b9cc2"/><rect x="684.75" y="583.2" width="0.5" height="81.79999999999995" fill="#e3e6e9"/><rect x="684.75" y="572.3" width="0.5" height="10.9" fill="#6b9cc2"/><rect x="714.95" y="583.2" width="0.5" height="81.79999999999995" fill="#e3e6e9"/><rect x="714.95" y="572.3" width="0.5" height="10.9" fill="#6b9cc2"/><rect x="548.8" y="582.95" width="166.4" height="0.5" fill="#e3e6e9"/><rect x="548.8" y="594.75" width="166.4" height="0.5" fill="#e3e6e9"/><rect x="548.8" y="606.35" width="166.4" height="0.5" fill="#e3e6e9"/><rect x="548.8" y="617.95" width="166.4" height="0.5" fill="#e3e6e9"/><rect x="548.8" y="629.55" width="166.4" height="0.5" fill="#e3e6e9"/><rect x="548.8" y="641.15" width="166.4" height="0.5" fill="#e3e6e9"/><rect x="548.8" y="652.75" width="166.4" height="0.5" fill="#e3e6e9"/><rect x="548.8" y="664.75" width="166.4" height="0.5" fill="#e3e6e9"/><rect x="550.5" y="585.5" width="4" height="0.7" fill="#9aa0a6"/><rect x="550.5" y="597.3" width="4" height="0.7" fill="#9aa0a6"/><rect x="550.5" y="608.9" width="4" height="0.7" fill="#9aa0a6"/><rect x="550.5" y="620.5" width="4" height="0.7" fill="#9aa0a6"/><rect x="550.5" y="632.0999999999999" width="4" height="0.7" fill="#9aa0a6"/><rect x="550.5" y="643.6999999999999" width="4" height="0.7" fill="#9aa0a6"/><rect x="550.5" y="655.3" width="4" height="0.7" fill="#9aa0a6"/><rect x="566.0" y="574.5" width="14" height="0.5" fill="#a9c6de"/><rect x="566.0" y="576.5" width="16" height="0.5" fill="#a9c6de"/><rect x="592.5" y="574.5" width="14" height="0.5" fill="#a9c6de"/><rect x="592.5" y="576.5" width="16" height="0.5" fill="#a9c6de"/><rect x="621.5" y="574.5" width="14" height="0.5" fill="#a9c6de"/><rect x="621.5" y="576.5" width="16" height="0.5" fill="#a9c6de"/><rect x="650.2" y="574.5" width="14" height="0.5" fill="#a9c6de"/><rect x="650.2" y="576.5" width="14.299999999999955" height="0.5" fill="#a9c6de"/><rect x="668.5" y="574.5" width="14" height="0.5" fill="#a9c6de"/><rect x="668.5" y="576.5" width="14" height="0.5" fill="#a9c6de"/><rect x="686.5" y="574.5" width="14" height="0.5" fill="#a9c6de"/><rect x="686.5" y="576.5" width="16" height="0.5" fill="#a9c6de"/>
</svg>
</body></html>
